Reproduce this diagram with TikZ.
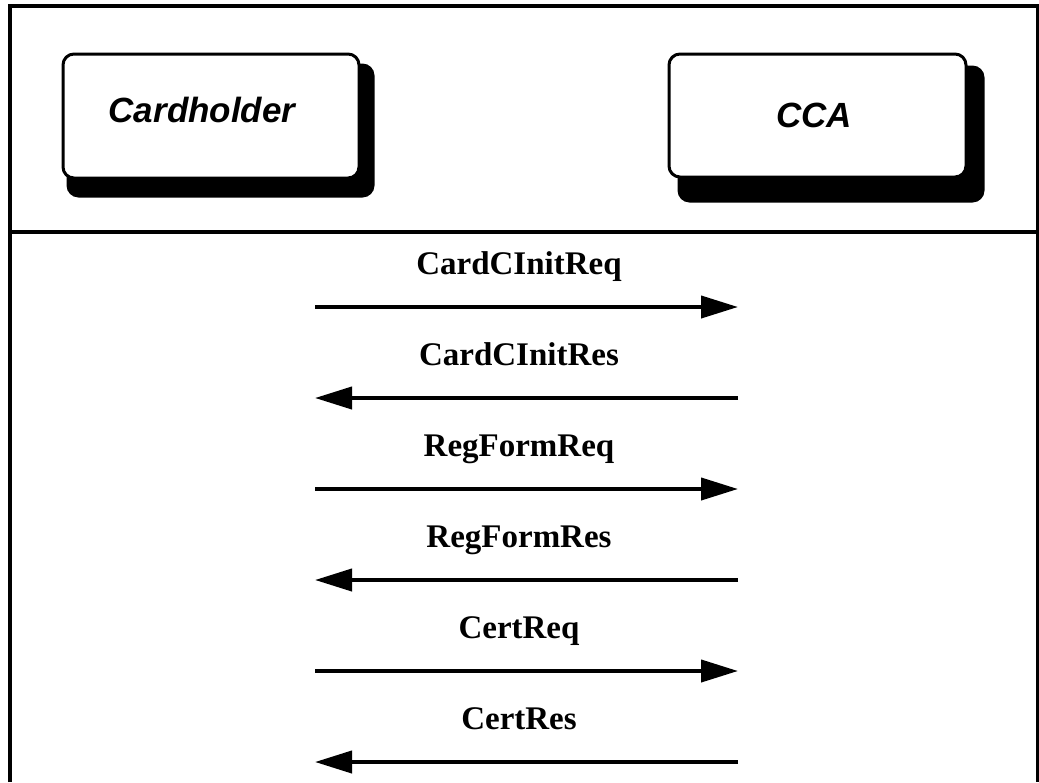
\documentclass[tikz,border=0pt]{standalone}
\usepackage{fontspec}
\setmainfont{Liberation Serif}
\newfontfamily\actorfont{Liberation Sans}
\usetikzlibrary{arrows.meta,backgrounds}
\begin{document}
\begin{tikzpicture}[x=1pt,y=-1pt,
  frameline/.style={line width=4pt},
  actorbox/.style={draw,line width=3pt,fill=white,rounded corners=11pt,inner sep=0pt},
  actorshadow/.style={fill=black,rounded corners=12pt},
  actorname/.style={font=\actorfont\bfseries\itshape\fontsize{35}{40}\selectfont,inner sep=0pt},
  msglabel/.style={font=\bfseries\fontsize{33}{37}\selectfont,inner sep=0pt,anchor=base},
  msg/.style={line width=4pt,-{Triangle[length=37pt,width=22pt]}}]
\useasboundingbox (0,0) rectangle (1039,782);

% outer frame, open at the bottom, and the header separator
\coordinate (fbl) at (10,782);
\coordinate (ftl) at (10,6);
\coordinate (ftr) at (1038,6);
\coordinate (fbr) at (1038,782);
\coordinate (sepl) at (10,232);
\coordinate (sepr) at (1038,232);
\draw[frameline] (fbl) -- (ftl) -- (ftr) -- (fbr);
\draw[frameline] (sepl) -- (sepr);

% participants
\node[actorbox,minimum width=296pt,minimum height=124pt] (ch) at (211,116) {};
\node[actorbox,minimum width=297pt,minimum height=123pt] (cca) at (817.5,115.5) {};
\begin{scope}[on background layer]
  \fill[actorshadow] ([shift={(5,11)}]ch.north west) rectangle ([shift={(14,18)}]ch.south east);
  \fill[actorshadow] ([shift={(10,13)}]cca.north west) rectangle ([shift={(17,24)}]cca.south east);
\end{scope}
\node[actorname] (chname) at (202,110) {Cardholder};
\node[actorname] (ccaname) at (814,115.5) {CCA};

% message exchange
\foreach \i/\txt/\dir in {0/CardCInitReq/r,1/CardCInitRes/l,2/RegFormReq/r,3/RegFormRes/l,4/CertReq/r,5/CertRes/l}{
  \coordinate (L\i) at (315,{307+91*\i});
  \coordinate (R\i) at (738,{307+91*\i});
  \node[msglabel] (lab\i) at (519,{274+91*\i}) {\txt};
  \if\dir r
    \draw[msg] (L\i) -- (R\i);
  \else
    \draw[msg] (R\i) -- (L\i);
  \fi
}
\end{tikzpicture}
\end{document}
